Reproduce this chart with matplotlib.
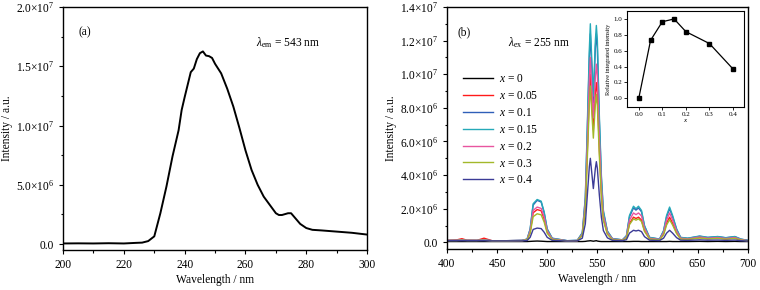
import matplotlib
matplotlib.use('Agg')
import matplotlib.pyplot as plt
from matplotlib.ticker import FuncFormatter, MultipleLocator, AutoMinorLocator
import numpy as np

plt.rcParams['font.family'] = ['Liberation Serif', 'DejaVu Serif']
plt.rcParams['mathtext.fontset'] = 'custom'
plt.rcParams['mathtext.rm'] = 'Liberation Serif'
plt.rcParams['mathtext.it'] = 'Liberation Serif:italic'
plt.rcParams['font.size'] = 8.3

# (a) excitation spectrum, intensity in units of 1e6
wl_a = [200, 205, 210, 215, 220, 224, 226, 228, 230, 232, 234, 236, 238, 239, 240, 242,
        243, 244, 245, 246, 247, 248, 249, 250, 252, 254, 256, 258, 260, 262, 264, 266,
        268, 270, 271, 272, 274, 275, 276, 278, 280, 282, 285, 290, 295, 300]
int_a = [0.05, 0.06, 0.05, 0.07, 0.05, 0.1, 0.12, 0.25, 0.65, 2.6, 4.85, 7.4, 9.6, 11.3, 12.4, 14.5,
         14.8, 15.6, 16.1, 16.25, 15.9, 15.85, 15.7, 15.2, 14.4, 13.1, 11.6, 9.8, 7.9, 6.25, 5.0, 4.0,
         3.3, 2.6, 2.45, 2.45, 2.6, 2.6, 2.3, 1.7, 1.35, 1.2, 1.15, 1.05, 0.95, 0.8]

# (b) emission spectra, intensity in units of 1e6
wl_b = [400, 410, 415, 420, 430, 437, 445, 460, 475, 480, 483, 486, 490, 494, 497, 500,
        505, 520, 530, 535, 538, 540, 542, 543, 544, 546, 548, 549, 550, 552, 554, 556,
        560, 565, 575, 579, 582, 586, 588.5, 591, 594, 597, 602, 612, 616, 619, 622, 625,
        629, 633, 640, 652, 660, 670, 678, 687, 693, 700]
x_labels = ['0', '0.05', '0.1', '0.15', '0.2', '0.3', '0.4']
colors = ['#000000', '#ff1a1a', '#2f5fb8', '#25a9b8', '#e8559f', '#a3b82a', '#3b3b96']
int_x0 = [0.05, 0.05, 0.05, 0.05, 0.05, 0.05, 0.05, 0.05, 0.05, 0.05, 0.06, 0.07, 0.08, 0.07, 0.06, 0.05,
          0.05, 0.05, 0.05, 0.05, 0.06, 0.08, 0.09, 0.1, 0.09, 0.07, 0.09, 0.1, 0.08, 0.06, 0.05, 0.05,
          0.05, 0.05, 0.05, 0.05, 0.05, 0.06, 0.06, 0.06, 0.05, 0.05, 0.05, 0.05, 0.05, 0.05, 0.06, 0.05,
          0.05, 0.05, 0.05, 0.06, 0.05, 0.06, 0.05, 0.06, 0.05, 0.05]
int_x005 = [0.12, 0.15, 0.22, 0.13, 0.12, 0.25, 0.10, 0.10, 0.11, 0.16, 0.62, 1.76, 1.95, 1.88, 1.38, 0.62,
            0.19, 0.09, 0.10, 0.45, 2.1, 5.4, 8.8, 10.0, 8.8, 6.7, 8.9, 9.5, 8.8, 5.5, 2.9, 1.4,
            0.52, 0.18, 0.13, 0.29, 1.12, 1.50, 1.42, 1.50, 1.33, 0.70, 0.22, 0.15, 0.50, 1.14, 1.50, 1.14,
            0.57, 0.22, 0.19, 0.28, 0.22, 0.26, 0.21, 0.26, 0.15, 0.10]
int_x01 = [0.12, 0.12, 0.13, 0.12, 0.12, 0.13, 0.10, 0.10, 0.12, 0.19, 0.78, 2.22, 2.50, 2.40, 1.75, 0.78,
           0.24, 0.10, 0.12, 0.55, 2.6, 6.7, 11.0, 12.4, 11.0, 8.3, 11.6, 12.4, 11.5, 7.2, 3.8, 1.8,
           0.65, 0.22, 0.15, 0.38, 1.52, 2.05, 1.92, 2.05, 1.82, 0.96, 0.29, 0.19, 0.67, 1.52, 2.0, 1.52,
           0.77, 0.29, 0.24, 0.36, 0.29, 0.34, 0.27, 0.34, 0.19, 0.12]
int_x015 = [0.12, 0.12, 0.15, 0.12, 0.12, 0.15, 0.10, 0.10, 0.12, 0.20, 0.80, 2.30, 2.55, 2.45, 1.80, 0.80,
            0.25, 0.10, 0.12, 0.58, 2.7, 7.0, 11.5, 13.0, 11.5, 8.7, 12.0, 12.9, 12.0, 7.5, 4.0, 1.9,
            0.68, 0.23, 0.15, 0.4, 1.6, 2.15, 2.0, 2.15, 1.9, 1.0, 0.3, 0.2, 0.7, 1.6, 2.1, 1.6,
            0.8, 0.3, 0.25, 0.38, 0.3, 0.35, 0.28, 0.35, 0.2, 0.12]
int_x02 = [0.12, 0.12, 0.13, 0.12, 0.12, 0.13, 0.10, 0.10, 0.11, 0.17, 0.68, 1.90, 2.10, 2.02, 1.50, 0.68,
           0.21, 0.09, 0.11, 0.48, 2.3, 5.9, 9.7, 11.0, 9.7, 7.4, 9.8, 10.6, 9.9, 6.2, 3.3, 1.6,
           0.58, 0.2, 0.13, 0.33, 1.32, 1.75, 1.65, 1.75, 1.57, 0.83, 0.25, 0.17, 0.58, 1.33, 1.75, 1.33,
           0.66, 0.25, 0.21, 0.32, 0.25, 0.29, 0.23, 0.29, 0.17, 0.10]
int_x03 = [0.11, 0.11, 0.12, 0.11, 0.11, 0.12, 0.09, 0.09, 0.10, 0.15, 0.54, 1.53, 1.70, 1.64, 1.20, 0.54,
           0.17, 0.08, 0.10, 0.42, 1.95, 5.0, 8.2, 9.3, 8.2, 6.2, 8.2, 8.8, 8.1, 5.1, 2.7, 1.3,
           0.48, 0.16, 0.12, 0.27, 1.05, 1.40, 1.32, 1.40, 1.24, 0.65, 0.21, 0.14, 0.45, 1.03, 1.35, 1.03,
           0.52, 0.20, 0.18, 0.26, 0.21, 0.24, 0.19, 0.24, 0.14, 0.09]
int_x04 = [0.10, 0.10, 0.10, 0.10, 0.10, 0.10, 0.09, 0.09, 0.09, 0.11, 0.30, 0.77, 0.85, 0.82, 0.60, 0.30,
           0.12, 0.08, 0.09, 0.25, 1.1, 2.8, 4.5, 5.0, 4.4, 3.2, 4.4, 4.8, 4.4, 2.8, 1.5, 0.7,
           0.27, 0.12, 0.10, 0.16, 0.55, 0.72, 0.68, 0.72, 0.64, 0.34, 0.13, 0.11, 0.25, 0.55, 0.72, 0.55,
           0.28, 0.13, 0.12, 0.15, 0.13, 0.14, 0.12, 0.14, 0.10, 0.08]
series_b = [int_x0, int_x005, int_x01, int_x015, int_x02, int_x03, int_x04]

# inset: relative integrated intensity vs x
inset_x = [0.0, 0.05, 0.1, 0.15, 0.2, 0.3, 0.4]
inset_y = [0.0, 0.73, 0.965, 1.0, 0.84, 0.69, 0.37]


def sci_fmt(v, pos):
    if abs(v) < 1e-9:
        return '0.0'
    e = int(np.floor(np.log10(abs(v))))
    m = v / 10 ** e
    return r'$\mathregular{%.1f{\times}10^{%d}}$' % (m, e)


def style_axes(ax):
    ax.tick_params(which='major', direction='out', length=3, width=0.8, top=False, right=False)
    ax.tick_params(which='minor', direction='out', length=1.8, width=0.8, top=False, right=False)
    for s in ax.spines.values():
        s.set_linewidth(1.0)


fig = plt.figure(figsize=(7.6, 2.9), dpi=100)

# panel (a)
ax1 = fig.add_axes([0.083, 0.138, 0.400, 0.838])
ax1.plot(wl_a, np.array(int_a) * 1e6, color='black', lw=1.4)
ax1.set_xlim(200, 300)
ax1.set_ylim(-0.5e6, 2.0e7)
ax1.xaxis.set_major_locator(MultipleLocator(20))
ax1.xaxis.set_minor_locator(AutoMinorLocator(2))
ax1.yaxis.set_major_locator(MultipleLocator(5e6))
ax1.yaxis.set_minor_locator(AutoMinorLocator(2))
ax1.yaxis.set_major_formatter(FuncFormatter(sci_fmt))
ax1.set_xlabel('Wavelength / nm', labelpad=2)
ax1.set_ylabel('Intensity / a.u.', labelpad=2)
ax1.text(205, 1.79e7, '(a)', va='center')
ax1.text(263.5, 1.70e7, r'$\lambda_{\mathregular{em}}$ = 543 nm', va='center')
style_axes(ax1)

# panel (b)
ax2 = fig.add_axes([0.588, 0.141, 0.396, 0.835])
for vals, lab, c in zip(series_b, x_labels, colors):
    ax2.plot(wl_b, np.array(vals) * 1e6, color=c, lw=1.0, label=r'$x$ = ' + lab)
ax2.set_xlim(400, 700)
ax2.set_ylim(-0.4e6, 1.4e7)
ax2.xaxis.set_major_locator(MultipleLocator(50))
ax2.xaxis.set_minor_locator(AutoMinorLocator(2))
ax2.yaxis.set_major_locator(MultipleLocator(2e6))
ax2.yaxis.set_minor_locator(AutoMinorLocator(2))
ax2.yaxis.set_major_formatter(FuncFormatter(sci_fmt))
ax2.set_xlabel('Wavelength / nm', labelpad=2)
ax2.set_ylabel('Intensity / a.u.', labelpad=2)
ax2.text(411, 1.25e7, '(b)', va='center')
ax2.text(461, 1.19e7, r'$\lambda_{\mathregular{ex}}$ = 255 nm', va='center')
ax2.legend(loc='upper left', bbox_to_anchor=(0.038, 0.745), frameon=False, fontsize=8.3,
           handlelength=2.6, handletextpad=0.5, labelspacing=0.42, borderaxespad=0)
style_axes(ax2)

# inset
ax3 = fig.add_axes([0.825, 0.631, 0.154, 0.331])
ax3.plot(inset_x, inset_y, color='black', lw=0.9, marker='s', ms=3.2)
ax3.set_xlim(-0.05, 0.447)
ax3.set_ylim(-0.11, 1.1)
ax3.xaxis.set_major_locator(MultipleLocator(0.1))
ax3.yaxis.set_major_locator(MultipleLocator(0.2))
ax3.xaxis.set_major_formatter(FuncFormatter(lambda v, p: '%.1f' % v))
ax3.yaxis.set_major_formatter(FuncFormatter(lambda v, p: '%.1f' % v))
ax3.tick_params(labelsize=5, length=2, width=0.6, direction='out', pad=1.5)
ax3.set_xlabel(r'$x$', fontsize=5, labelpad=0)
ax3.set_ylabel('Relative integrated intensity', fontsize=4.5, labelpad=1.5)
for s in ax3.spines.values():
    s.set_linewidth(0.8)

fig.savefig('out.png', dpi=100)
